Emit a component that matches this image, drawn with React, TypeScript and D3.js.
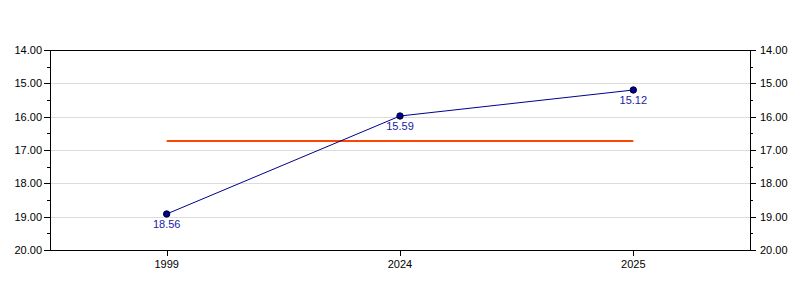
import React from "react";
import * as d3 from "d3";

const categories = ["1999", "2024", "2025"];
const plotValues = [18.92, 15.98, 15.2];
const valueLabels = ["18.56", "15.59", "15.12"];
const referenceValue = 16.73;
const yTicks = [14, 15, 16, 17, 18, 19, 20];
const yMinorTicks = [14.5, 15.5, 16.5, 17.5, 18.5, 19.5];

const W = 800, H = 300;
const M = { left: 50, right: 50, top: 50, bottom: 50 };

export default function App() {
  const x = d3.scaleBand<string>().domain(categories).range([M.left, W - M.right]);
  const y = d3.scaleLinear().domain([14, 20]).range([M.top, H - M.bottom]);
  const cx = (c: string) => (x(c) as number) + x.bandwidth() / 2;
  const line = d3.line<number>().x((_, i) => cx(categories[i])).y((d) => y(d));
  const font = "Liberation Sans, Arial, sans-serif";
  const x0 = M.left, x1 = W - M.right, y0 = M.top, y1 = H - M.bottom;
  return (
    <svg width={W} height={H} style={{ position: "absolute", left: 0, top: 0 }} fontFamily={font}>
      <rect x={0} y={0} width={W} height={H} fill="#fff" />
      {yTicks.slice(1, -1).map((t) => (
        <line key={"g" + t} x1={x0} x2={x1} y1={Math.round(y(t)) + 0.5} y2={Math.round(y(t)) + 0.5} stroke="#dcdcdc" />
      ))}
      <rect x={x0 + 0.5} y={y0 + 0.5} width={x1 - x0} height={y1 - y0} fill="none" stroke="#000" />
      {yTicks.map((t) => (
        <g key={"t" + t}>
          <line x1={x0 - 6} x2={x0} y1={Math.round(y(t)) + 0.5} y2={Math.round(y(t)) + 0.5} stroke="#000" />
          <line x1={x1} x2={x1 + 6} y1={Math.round(y(t)) + 0.5} y2={Math.round(y(t)) + 0.5} stroke="#000" />
          <text x={x0 - 8} y={y(t)} dy="0.35em" textAnchor="end" fontSize={11} fill="#000">{t.toFixed(2)}</text>
          <text x={x1 + 10} y={y(t)} dy="0.35em" textAnchor="start" fontSize={11} fill="#000">{t.toFixed(2)}</text>
        </g>
      ))}
      {yMinorTicks.map((t) => (
        <g key={"m" + t}>
          <line x1={x0 - 3} x2={x0} y1={Math.round(y(t)) + 0.5} y2={Math.round(y(t)) + 0.5} stroke="#000" />
          <line x1={x1} x2={x1 + 3} y1={Math.round(y(t)) + 0.5} y2={Math.round(y(t)) + 0.5} stroke="#000" />
        </g>
      ))}
      {categories.map((c) => (
        <g key={"x" + c}>
          <line x1={Math.round(cx(c)) + 0.5} x2={Math.round(cx(c)) + 0.5} y1={y1} y2={y1 + 6} stroke="#000" />
          <text x={cx(c)} y={y1 + 18} textAnchor="middle" fontSize={11} fill="#000">{c}</text>
        </g>
      ))}
      <line x1={cx(categories[0])} x2={cx(categories[categories.length - 1])} y1={y(referenceValue)} y2={y(referenceValue)} stroke="#ff4500" strokeWidth={2} />
      <path d={line(plotValues) || ""} fill="none" stroke="#00008b" strokeWidth={1} />
      {plotValues.map((v, i) => (
        <g key={"p" + i}>
          <circle cx={cx(categories[i])} cy={y(v)} r={3.2} fill="#00008b" stroke="#000033" strokeWidth={1} />
          <text x={cx(categories[i])} y={y(v) + 14} textAnchor="middle" fontSize={11} fill="#1a1aa6">{valueLabels[i]}</text>
        </g>
      ))}
    </svg>
  );
}
